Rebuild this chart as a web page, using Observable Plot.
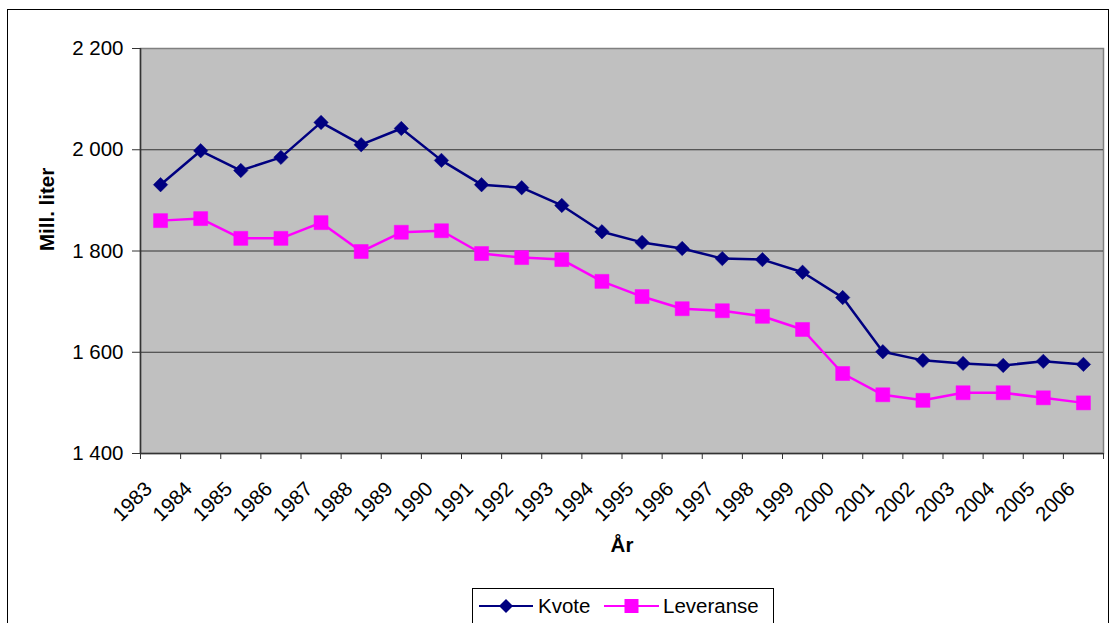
<!DOCTYPE html>
<html><head><meta charset="utf-8">
<script src="https://cdn.jsdelivr.net/npm/d3@7"></script>
<script src="https://cdn.jsdelivr.net/npm/@observablehq/plot@0.6"></script>
<style>
body{margin:0;background:#fff;font-family:"Liberation Sans",Arial,sans-serif;}
#wrap{position:relative;width:1112px;height:623px;overflow:hidden;background:#fff;}
#border{position:absolute;left:7px;top:9px;width:1102px;height:700px;border:1px solid #000;box-sizing:border-box;}
#chart{position:absolute;left:0;top:0;}
#legend{position:absolute;left:472px;top:588px;width:302px;height:40px;border:1px solid #000;box-sizing:border-box;background:#fff;}
</style></head><body>
<div id="wrap"><div id="border"></div><div id="chart"></div><div id="legend"></div></div>
<script>
const years = [1983,1984,1985,1986,1987,1988,1989,1990,1991,1992,1993,1994,1995,1996,1997,1998,1999,2000,2001,2002,2003,2004,2005,2006];
const kvote = [1931,1998,1959,1985,2054,2010,2042,1979,1931,1925,1890,1838,1817,1805,1785,1783,1758,1708,1601,1584,1578,1574,1582,1576];
const leveranse = [1860,1864,1825,1825,1856,1799,1837,1840,1795,1787,1783,1740,1710,1686,1682,1671,1645,1558,1516,1505,1520,1520,1510,1500];
const yTicks = [1400,1600,1800,2000,2200];
const gridTicks = [1600,1800,2000];
const seriesNames = ["Kvote","Leveranse"];
const seriesColors = ["#000080","#FF00FF"];
const yTitle = "Mill. liter";
const xTitle = "År";

const kData = years.map((y,i)=>({year:y, value:kvote[i]}));
const lData = years.map((y,i)=>({year:y, value:leveranse[i]}));
const bounds = d3.range(years[0]-0.5, years[years.length-1]+1, 1);
const fmt = d => d3.format(",")(d).replace(/,/g, " ");
const font = "Liberation Sans, Arial, sans-serif";
const FS = 20.5;

const chart = Plot.plot({
  width: 1112, height: 623,
  marginLeft: 140, marginRight: 9, marginTop: 48, marginBottom: 170,
  style: {fontFamily: font, fontSize: FS + "px", background: "transparent", color: "#000"},
  x: {type: "linear", domain: [years[0]-0.5, years[years.length-1]+0.5]},
  y: {domain: [1400, 2200]},
  marks: [
    Plot.frame({fill: "#C0C0C0", stroke: "#808080", strokeWidth: 1.5}),
    Plot.ruleY(gridTicks, {stroke: "#333", strokeWidth: 1}),
    Plot.ruleX([years[0]-0.5], {stroke: "#333", strokeWidth: 1.5}),
    Plot.ruleY([1400], {stroke: "#333", strokeWidth: 1.5}),
    Plot.axisY({ticks: yTicks, tickFormat: fmt, tickSize: 8, tickPadding: 9, fontSize: FS, label: null, stroke: "#333"}),
    Plot.axisX({ticks: bounds, tickFormat: () => "", tickSize: 6, label: null, stroke: "#333"}),
    Plot.text(years, {x: d => d, frameAnchor: "bottom", dx: -12, dy: 32, rotate: -45, textAnchor: "end", lineAnchor: "middle", fontSize: FS, text: d => String(d)}),
    Plot.text([yTitle], {frameAnchor: "left", dx: -93, rotate: -90, lineAnchor: "middle", fontWeight: "bold", fontSize: FS}),
    Plot.text([xTitle], {frameAnchor: "bottom", dy: 92, lineAnchor: "middle", fontWeight: "bold", fontSize: FS}),
    Plot.line(kData, {x: "year", y: "value", stroke: seriesColors[0], strokeWidth: 2.5}),
    Plot.line(lData, {x: "year", y: "value", stroke: seriesColors[1], strokeWidth: 2.5}),
    Plot.dot(kData, {x: "year", y: "value", symbol: "diamond2", r: 6.5, fill: seriesColors[0], stroke: seriesColors[0], strokeWidth: 0.5}),
    Plot.dot(lData, {x: "year", y: "value", symbol: "square", r: 7.9, fill: seriesColors[1], stroke: seriesColors[1], strokeWidth: 0.5})
  ]
});
document.getElementById("chart").appendChild(chart);

// legend
const lg = d3.select("#legend").append("svg").attr("width", 300).attr("height", 38).style("position","absolute").style("left","0").style("top","0");
const items = [
  {name: seriesNames[0], color: seriesColors[0], x0: 6, x1: 60, tx: 65, sym: "diamond"},
  {name: seriesNames[1], color: seriesColors[1], x0: 131, x1: 186, tx: 190, sym: "square"}
];
items.forEach(it => {
  const cy = 17;
  lg.append("line").attr("x1", it.x0).attr("x2", it.x1).attr("y1", cy).attr("y2", cy).attr("stroke", it.color).attr("stroke-width", 2);
  const cx = (it.x0 + it.x1) / 2;
  if (it.sym === "diamond") {
    lg.append("path").attr("d", `M${cx},${cy-7}L${cx+7},${cy}L${cx},${cy+7}L${cx-7},${cy}Z`).attr("fill", it.color);
  } else {
    lg.append("rect").attr("x", cx-7).attr("y", cy-7).attr("width", 14).attr("height", 14).attr("fill", it.color);
  }
  lg.append("text").attr("x", it.tx).attr("y", cy).attr("dy", "0.35em").attr("font-size", FS).attr("font-family", font).text(it.name);
});
</script>
</body></html>
